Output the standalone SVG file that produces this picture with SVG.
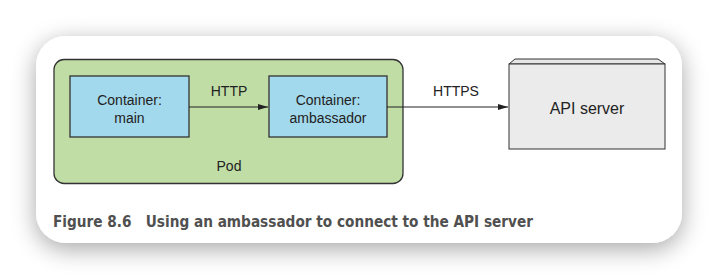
<svg xmlns="http://www.w3.org/2000/svg" width="718" height="280" viewBox="0 0 718 280">
<defs>
<filter id="sh" x="-20%" y="-40%" width="140%" height="180%">
<feGaussianBlur in="SourceAlpha" stdDeviation="12"/>
<feOffset dx="0" dy="6" result="b"/>
<feComponentTransfer><feFuncA type="linear" slope="0.35"/></feComponentTransfer>
<feMerge><feMergeNode/><feMergeNode in="SourceGraphic"/></feMerge>
</filter>
<marker id="arr" markerWidth="10" markerHeight="8" refX="10" refY="4" orient="auto" markerUnits="userSpaceOnUse">
<path d="M0,1 L10,4 L0,7 Z" fill="#222"/>
</marker>
<style>
.lbl{font-family:"Liberation Sans",Arial,sans-serif;font-size:14px;fill:#222;text-anchor:middle}
.box{fill:#a2d9ec;stroke:#333;stroke-width:1.3}
.conn{stroke:#222;stroke-width:1;fill:none;marker-end:url(#arr)}
</style>
</defs>
<rect width="718" height="280" fill="#ffffff"/>
<rect x="36" y="36" width="646" height="207" rx="30" fill="#ffffff" filter="url(#sh)"/>
<g id="pod">
<rect x="54" y="59.5" width="349" height="124" rx="10" fill="#c0dda5" stroke="#333" stroke-width="1.3"/>
<text class="lbl" x="229" y="171">Pod</text>
</g>
<g id="main">
<rect class="box" x="70" y="76" width="119" height="61"/>
<text class="lbl" x="129.5" y="105">Container:</text>
<text class="lbl" x="129.5" y="123">main</text>
</g>
<g id="ambassador">
<rect class="box" x="269" y="76" width="118" height="61"/>
<text class="lbl" x="328" y="105">Container:</text>
<text class="lbl" x="328" y="123">ambassador</text>
</g>
<g id="apiserver">
<path d="M509,64 L515,59 L658,59 L665,64 Z" fill="#e6e6e6" stroke="#333" stroke-width="1"/>
<rect x="509" y="64" width="156" height="85" fill="#ebebeb" stroke="#333" stroke-width="1"/>
<text class="lbl" x="587" y="114" style="font-size:16px">API server</text>
</g>
<g id="connectors">
<line class="conn" x1="189" y1="107" x2="268" y2="107"/>
<text class="lbl" x="229" y="96">HTTP</text>
<line class="conn" x1="387" y1="107" x2="508" y2="107"/>
<text class="lbl" x="456" y="96">HTTPS</text>
</g>
<text x="53" y="227" font-family="'DejaVu Sans Condensed','Liberation Sans',sans-serif" font-weight="bold" font-size="15" fill="#505050" textLength="480" lengthAdjust="spacingAndGlyphs" xml:space="preserve">Figure 8.6   Using an ambassador to connect to the API server</text>
</svg>
